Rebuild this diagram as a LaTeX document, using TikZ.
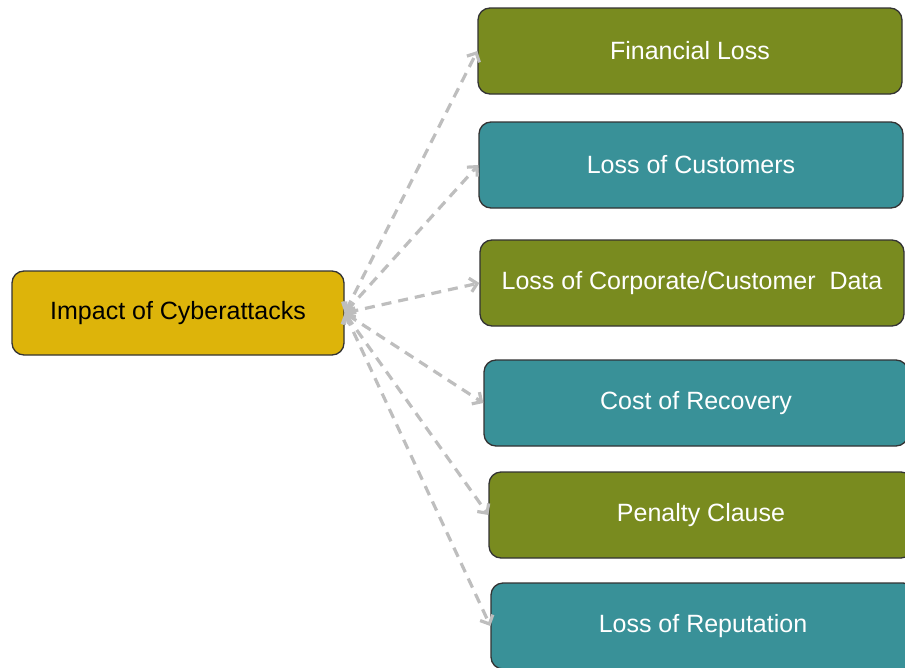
\documentclass[tikz,border=0pt]{standalone}
\usepackage{fontspec}
\setmainfont{Liberation Sans}
\usepackage{tikz}
\usetikzlibrary{arrows.meta,shapes}

\definecolor{olive}{RGB}{121,139,31}
\definecolor{teal}{RGB}{57,145,152}
\definecolor{gold}{RGB}{221,180,10}
\definecolor{linkgray}{RGB}{190,190,190}

\tikzset{
  box/.style={draw=black!80,line width=1.3bp,rounded corners=12bp,minimum width=424bp,minimum height=86bp,text=white,font=\fontsize{25bp}{29bp}\selectfont},
  oliveBox/.style={box,fill=olive},
  tealBox/.style={box,fill=teal},
  rootBox/.style={box,fill=gold,text=black,minimum width=332bp,minimum height=84bp},
  link/.style={{Straight Barb[length=7bp,width=14bp]}-{Straight Barb[length=7bp,width=14bp]},draw=linkgray,line width=3.2bp,dash pattern=on 10bp off 7bp}
}

\begin{document}
\begin{tikzpicture}

\useasboundingbox (0bp,0bp) rectangle (905bp,-668bp);

\node (Impact) at (178bp,-313bp)[rootBox] {Impact of Cyberattacks};
\node (Fin) at (690bp,-51bp)[oliveBox] {Financial Loss};
\node (Cust) at (691bp,-165bp)[tealBox] {Loss of Customers};
\node (Data) at (692bp,-283bp)[oliveBox] {Loss of Corporate/Customer~ Data};
\node (Rec) at (696bp,-403bp)[tealBox] {Cost of Recovery};
\node (Pen) at (701bp,-515bp)[oliveBox] {Penalty Clause};
\node (Rep) at (703bp,-626bp)[tealBox] {Loss of Reputation};
\draw [link] (Impact.east) -- (Fin.west);
\draw [link] (Impact.east) -- (Cust.west);
\draw [link] (Impact.east) -- (Data.west);
\draw [link] (Impact.east) -- (Rec.west);
\draw [link] (Impact.east) -- (Pen.west);
\draw [link] (Impact.east) -- (Rep.west);
\end{tikzpicture}
\end{document}
